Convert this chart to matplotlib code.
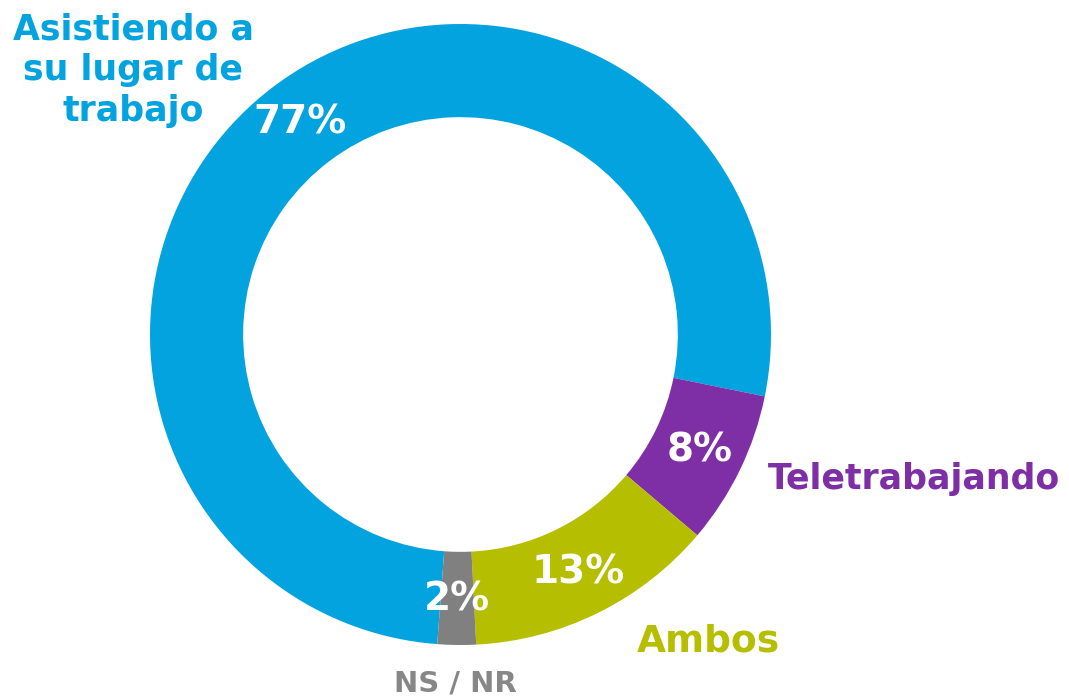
import matplotlib
matplotlib.use("Agg")
import matplotlib.pyplot as plt

categories = ["Asistiendo a\nsu lugar de\ntrabajo", "Teletrabajando", "Ambos", "NS / NR"]
values = [77, 8, 13, 2]
colors = ["#03A3E0", "#7F2FA5", "#B6BE00", "#808080"]
label_colors = ["#03A3E0", "#7F2FA5", "#B6BE00", "#878787"]

plt.rcParams["font.family"] = ["DejaVu Sans"]

fig = plt.figure(figsize=(10.69, 6.99), dpi=100)
W, H = 1069, 699
cx, cy, r = 460.5, 334.5, 310.5
ax = fig.add_axes([(cx - r) / W, (H - cy - r) / H, 2 * r / W, 2 * r / H])

start = -11.5 + values[0] * 3.6
wedges, texts, autotexts = ax.pie(
    values,
    colors=colors,
    startangle=start,
    counterclock=False,
    radius=1,
    wedgeprops=dict(width=0.30, linewidth=0),
    autopct="%d%%",
    pctdistance=0.855,
    textprops=dict(color="white", fontsize=28, fontweight="bold"),
)
ax.set_xlim(-1, 1)
ax.set_ylim(-1, 1)
ax.set_aspect("equal")
ax.axis("off")


def px(x, y):
    return (x - cx) / r, (cy - y) / r


label_pos = [(133, 70), (914, 479), (708, 642), (455, 684)]
label_sizes = [25, 25, 27, 21]
for name, col, pos, fs in zip(categories, label_colors, label_pos, label_sizes):
    x, y = px(*pos)
    ax.text(x, y, name, color=col, fontsize=fs, fontweight="bold",
            ha="center", va="center", linespacing=1.25)

fig.savefig("out.png", dpi=100)
